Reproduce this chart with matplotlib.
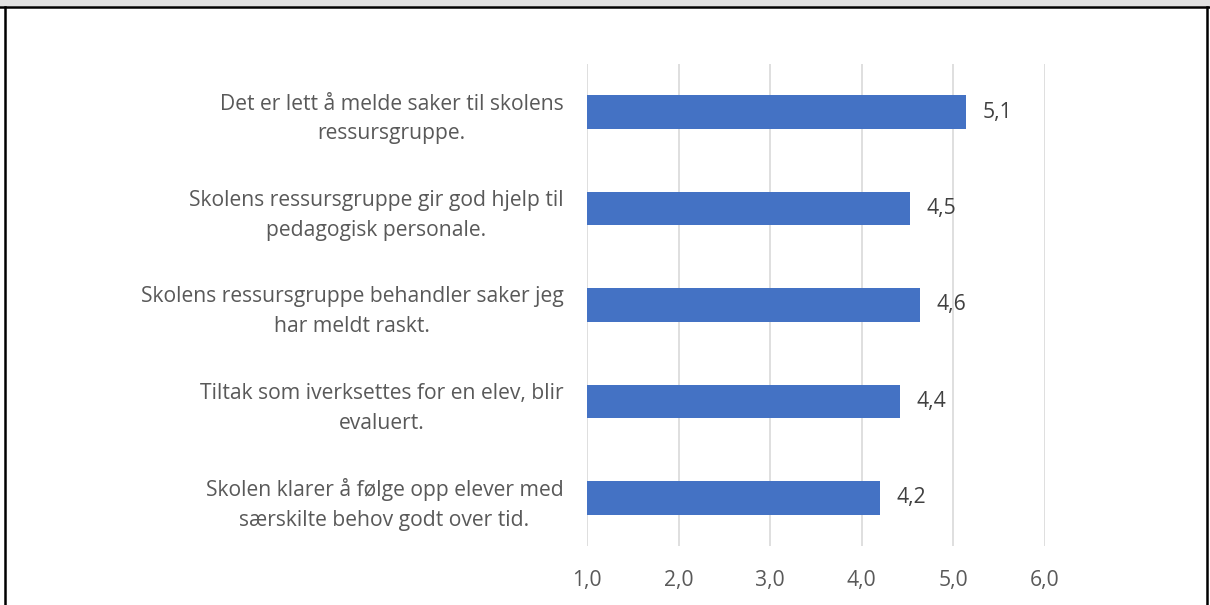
import matplotlib.pyplot as plt
from matplotlib.patches import Rectangle

# survey statements, top to bottom
statements = [
    "Det er lett å melde saker til skolens\nressursgruppe.",
    "Skolens ressursgruppe gir god hjelp til\npedagogisk personale.",
    "Skolens ressursgruppe behandler saker jeg\nhar meldt raskt.",
    "Tiltak som iverksettes for en elev, blir\nevaluert.",
    "Skolen klarer å følge opp elever med\nsærskilte behov godt over tid.",
]
scores = [5.14, 4.53, 4.64, 4.42, 4.20]
ticks = [1, 2, 3, 4, 5, 6]

plt.rcParams['font.family'] = ['Open Sans', 'DejaVu Sans']
fs = 15.2

fig = plt.figure(figsize=(12.1, 6.05), dpi=100)
ax = fig.add_axes([587 / 1210, 1 - 546 / 605, (1045 - 587) / 1210, (546 - 64) / 605])

ypos = list(range(len(statements)))
bars = ax.barh(ypos, [s - 1 for s in scores], left=1, height=0.35,
               color='#4472c4', zorder=3)

for y, s in zip(ypos, scores):
    ax.text(s + 0.18, y, f"{s:.1f}".replace('.', ','), va='center', ha='left',
            fontsize=fs, color='#404040', clip_on=False)

ax.set_xlim(1, 6)
ax.set_ylim(len(statements) - 0.5, -0.5)
ax.set_xticks(ticks)
ax.set_xticklabels([f"{t:.1f}".replace('.', ',') for t in ticks], fontsize=fs, color='#595959')
ax.set_yticks(ypos)
ax.set_yticklabels(statements, fontsize=fs, color='#595959', multialignment='center',
                   linespacing=1.55)
ax.tick_params(axis='both', length=0)
ax.tick_params(axis='x', pad=17)
ax.tick_params(axis='y', pad=17)
ax.xaxis.grid(True, color='#d9d9d9', linewidth=1.2, zorder=0)
for sp in ax.spines.values():
    sp.set_visible(False)

# frame: gray strip at top, black border lines
fig.patches.append(Rectangle((0, 1 - 6 / 605), 1, 6 / 605, transform=fig.transFigure,
                             facecolor='#e0e0e0', edgecolor='none'))
fig.add_artist(plt.Line2D([0, 1], [1 - 7 / 605] * 2, transform=fig.transFigure, color='black', lw=1.8))
fig.add_artist(plt.Line2D([5 / 1210] * 2, [0, 1 - 7 / 605], transform=fig.transFigure, color='black', lw=1.8))
fig.add_artist(plt.Line2D([1207 / 1210] * 2, [0, 1 - 7 / 605], transform=fig.transFigure, color='black', lw=1.8))

fig.savefig('out.png', dpi=100)
